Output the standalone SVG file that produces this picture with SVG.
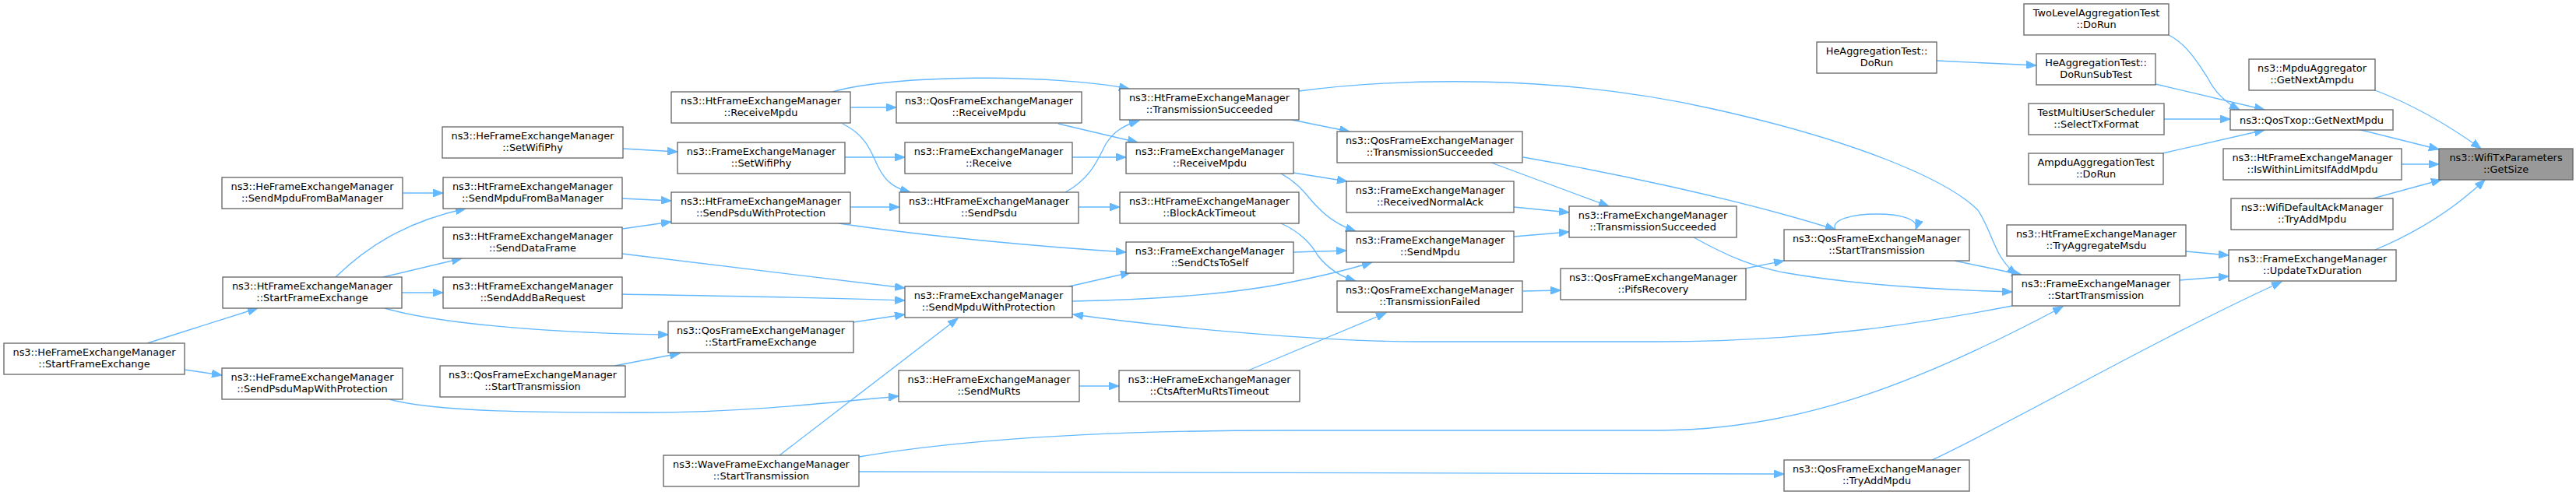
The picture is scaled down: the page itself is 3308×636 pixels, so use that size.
<svg xmlns="http://www.w3.org/2000/svg" width="3308" height="636" viewBox="0 0 3308 636">
<style>
.n rect{fill:#ffffff;stroke:#666666;stroke-width:1.33}
.root rect{fill:#999999;stroke:#666666;stroke-width:1.33}
text{font-family:"DejaVu Sans","Liberation Sans",sans-serif;font-size:12.9px;fill:#000000;text-anchor:middle}
.e path{fill:none;stroke:#63b8ff;stroke-width:1.33;marker-end:url(#ah)}
</style>
<defs>
<marker id="ah" markerUnits="userSpaceOnUse" markerWidth="14" markerHeight="10" refX="13" refY="5" orient="auto">
<path d="M0,0 L13,5 L0,10 z" fill="#63b8ff" stroke="#63b8ff" stroke-width="1"/>
</marker>
</defs>
<rect x="0" y="0" width="3308" height="636" fill="#ffffff"/>
<g id="edges" class="e">
<path d="M517,248 L569,248"/>
<path d="M431,356 C470,318 520,285 598,268"/>
<path d="M492,356 L593,332"/>
<path d="M516,376 L569,376"/>
<path d="M494,396 C560,415 700,428 858,430"/>
<path d="M189,441 L331,396"/>
<path d="M237,475 L285,482"/>
<path d="M500,513 C560,530 700,530 830,530 C950,530 1060,518 1154,509"/>
<path d="M789,470 L873,454"/>
<path d="M800,191 L870,195"/>
<path d="M799,255 L862,258"/>
<path d="M799,294 L862,285"/>
<path d="M799,326 L1162,370"/>
<path d="M799,378 C900,380 1050,382 1162,386"/>
<path d="M1096,414 L1162,404"/>
<path d="M1001,585 L1230,409"/>
<path d="M1103,587 C1250,562 1450,553 1650,553 L2132,553 C2300,552 2450,500 2649,394"/>
<path d="M1103,606 L2291,609"/>
<path d="M1386,496 L1437,496"/>
<path d="M1603,476 L1780,402"/>
<path d="M1069,118 C1150,95 1350,95 1450,114"/>
<path d="M1092,138 L1151,138"/>
<path d="M1082,159 C1115,175 1120,200 1128,215 C1138,235 1150,242 1169,247"/>
<path d="M1359,159 L1461,183"/>
<path d="M1085,202 L1162,202"/>
<path d="M1377,202 L1446,202"/>
<path d="M1092,266 L1155,266"/>
<path d="M1368,247 C1400,230 1410,205 1420,185 C1430,170 1440,162 1463,155"/>
<path d="M1384,266 L1438,266"/>
<path d="M1077,287 C1200,305 1350,318 1446,324"/>
<path d="M1373,368 L1452,350"/>
<path d="M1377,387 C1500,385 1600,375 1660,362 C1700,354 1730,347 1762,337"/>
<path d="M2584,393 C2480,413 2330,439 2130,439 L1820,439 C1700,439 1500,421 1378,404"/>
<path d="M1659,154 L1733,169"/>
<path d="M1668,117 C1800,100 2000,95 2200,140 C2380,180 2500,230 2540,270 C2560,300 2560,330 2590,353"/>
<path d="M1661,222 L1730,233"/>
<path d="M1645,223 C1672,238 1680,255 1692,266 C1705,280 1720,290 1741,297"/>
<path d="M1645,287 C1670,298 1685,315 1692,328 C1705,345 1720,355 1741,361"/>
<path d="M1661,324 L1729,322"/>
<path d="M1915,209 L2066,265"/>
<path d="M1956,202 C2060,220 2230,255 2357,295"/>
<path d="M1944,266 L2015,273"/>
<path d="M1944,304 L2015,298"/>
<path d="M1956,374 L2004,373"/>
<path d="M2175,305 C2220,330 2250,342 2290,350 C2380,366 2480,372 2584,375"/>
<path d="M2241,345 L2291,335"/>
<path d="M2357,295 C2350,282 2380,275 2410,275 C2442,275 2465,282 2460,295"/>
<path d="M2510,335 L2596,353"/>
<path d="M2487,78 L2615,84"/>
<path d="M2785,45 C2810,58 2825,85 2835,100 C2845,120 2860,133 2876,141"/>
<path d="M2768,108 L2908,141"/>
<path d="M2779,153 L2864,153"/>
<path d="M2777,197 L2908,167"/>
<path d="M3050,116 C3100,135 3150,165 3186,191"/>
<path d="M3028,166 L3132,192"/>
<path d="M3084,211 L3132,211"/>
<path d="M3047,255 L3135,231"/>
<path d="M3050,321 C3100,300 3150,270 3191,231"/>
<path d="M2807,323 L2862,328"/>
<path d="M2799,360 L2862,355"/>
<path d="M2481,591 C2580,545 2760,440 2930,362"/>
</g>
<g id="HeStartFrameExchange" class="n"><rect x="5" y="441" width="232" height="40"/><text x="121" y="456.5">ns3::HeFrameExchangeManager</text><text x="121" y="471.5">::StartFrameExchange</text></g>
<g id="HeSendMpduFromBaManager" class="n"><rect x="285" y="228" width="232" height="40"/><text x="401" y="243.5">ns3::HeFrameExchangeManager</text><text x="401" y="258.5">::SendMpduFromBaManager</text></g>
<g id="HtStartFrameExchange" class="n"><rect x="286" y="356" width="230" height="40"/><text x="401" y="371.5">ns3::HtFrameExchangeManager</text><text x="401" y="386.5">::StartFrameExchange</text></g>
<g id="HeSendPsduMapWithProtection" class="n"><rect x="285" y="473" width="232" height="40"/><text x="401" y="488.5">ns3::HeFrameExchangeManager</text><text x="401" y="503.5">::SendPsduMapWithProtection</text></g>
<g id="HeSetWifiPhy" class="n"><rect x="568" y="163" width="232" height="40"/><text x="684" y="178.5">ns3::HeFrameExchangeManager</text><text x="684" y="193.5">::SetWifiPhy</text></g>
<g id="HtSendMpduFromBaManager" class="n"><rect x="569" y="228" width="230" height="40"/><text x="684" y="243.5">ns3::HtFrameExchangeManager</text><text x="684" y="258.5">::SendMpduFromBaManager</text></g>
<g id="HtSendDataFrame" class="n"><rect x="569" y="292" width="230" height="40"/><text x="684" y="307.5">ns3::HtFrameExchangeManager</text><text x="684" y="322.5">::SendDataFrame</text></g>
<g id="HtSendAddBaRequest" class="n"><rect x="569" y="356" width="230" height="40"/><text x="684" y="371.5">ns3::HtFrameExchangeManager</text><text x="684" y="386.5">::SendAddBaRequest</text></g>
<g id="QosStartTransmissionA" class="n"><rect x="565" y="470" width="238" height="40"/><text x="684" y="485.5">ns3::QosFrameExchangeManager</text><text x="684" y="500.5">::StartTransmission</text></g>
<g id="HtReceiveMpdu" class="n"><rect x="862" y="118" width="230" height="40"/><text x="977" y="133.5">ns3::HtFrameExchangeManager</text><text x="977" y="148.5">::ReceiveMpdu</text></g>
<g id="FemSetWifiPhy" class="n"><rect x="870" y="183" width="215" height="40"/><text x="977.5" y="198.5">ns3::FrameExchangeManager</text><text x="977.5" y="213.5">::SetWifiPhy</text></g>
<g id="HtSendPsduWithProtection" class="n"><rect x="862" y="247" width="230" height="40"/><text x="977" y="262.5">ns3::HtFrameExchangeManager</text><text x="977" y="277.5">::SendPsduWithProtection</text></g>
<g id="QosStartFrameExchange" class="n"><rect x="858" y="413" width="238" height="40"/><text x="977" y="428.5">ns3::QosFrameExchangeManager</text><text x="977" y="443.5">::StartFrameExchange</text></g>
<g id="WaveStartTransmission" class="n"><rect x="852" y="585" width="251" height="40"/><text x="977.5" y="600.5">ns3::WaveFrameExchangeManager</text><text x="977.5" y="615.5">::StartTransmission</text></g>
<g id="QosReceiveMpdu" class="n"><rect x="1151" y="118" width="238" height="40"/><text x="1270" y="133.5">ns3::QosFrameExchangeManager</text><text x="1270" y="148.5">::ReceiveMpdu</text></g>
<g id="FemReceive" class="n"><rect x="1162" y="183" width="215" height="40"/><text x="1269.5" y="198.5">ns3::FrameExchangeManager</text><text x="1269.5" y="213.5">::Receive</text></g>
<g id="HtSendPsdu" class="n"><rect x="1155" y="247" width="230" height="40"/><text x="1270" y="262.5">ns3::HtFrameExchangeManager</text><text x="1270" y="277.5">::SendPsdu</text></g>
<g id="FemSendMpduWithProtection" class="n"><rect x="1162" y="368" width="215" height="40"/><text x="1269.5" y="383.5">ns3::FrameExchangeManager</text><text x="1269.5" y="398.5">::SendMpduWithProtection</text></g>
<g id="HeSendMuRts" class="n"><rect x="1154" y="476" width="232" height="40"/><text x="1270" y="491.5">ns3::HeFrameExchangeManager</text><text x="1270" y="506.5">::SendMuRts</text></g>
<g id="HtTransmissionSucceeded" class="n"><rect x="1438" y="114" width="230" height="40"/><text x="1553" y="129.5">ns3::HtFrameExchangeManager</text><text x="1553" y="144.5">::TransmissionSucceeded</text></g>
<g id="FemReceiveMpdu" class="n"><rect x="1446" y="183" width="215" height="40"/><text x="1553.5" y="198.5">ns3::FrameExchangeManager</text><text x="1553.5" y="213.5">::ReceiveMpdu</text></g>
<g id="HtBlockAckTimeout" class="n"><rect x="1438" y="247" width="230" height="40"/><text x="1553" y="262.5">ns3::HtFrameExchangeManager</text><text x="1553" y="277.5">::BlockAckTimeout</text></g>
<g id="FemSendCtsToSelf" class="n"><rect x="1446" y="311" width="215" height="40"/><text x="1553.5" y="326.5">ns3::FrameExchangeManager</text><text x="1553.5" y="341.5">::SendCtsToSelf</text></g>
<g id="HeCtsAfterMuRtsTimeout" class="n"><rect x="1437" y="476" width="232" height="40"/><text x="1553" y="491.5">ns3::HeFrameExchangeManager</text><text x="1553" y="506.5">::CtsAfterMuRtsTimeout</text></g>
<g id="QosTransmissionSucceeded" class="n"><rect x="1717" y="169" width="238" height="40"/><text x="1836" y="184.5">ns3::QosFrameExchangeManager</text><text x="1836" y="199.5">::TransmissionSucceeded</text></g>
<g id="FemReceivedNormalAck" class="n"><rect x="1729" y="233" width="215" height="40"/><text x="1836.5" y="248.5">ns3::FrameExchangeManager</text><text x="1836.5" y="263.5">::ReceivedNormalAck</text></g>
<g id="FemSendMpdu" class="n"><rect x="1729" y="297" width="215" height="40"/><text x="1836.5" y="312.5">ns3::FrameExchangeManager</text><text x="1836.5" y="327.5">::SendMpdu</text></g>
<g id="QosTransmissionFailed" class="n"><rect x="1717" y="361" width="238" height="40"/><text x="1836" y="376.5">ns3::QosFrameExchangeManager</text><text x="1836" y="391.5">::TransmissionFailed</text></g>
<g id="FemTransmissionSucceeded" class="n"><rect x="2015" y="265" width="215" height="40"/><text x="2122.5" y="280.5">ns3::FrameExchangeManager</text><text x="2122.5" y="295.5">::TransmissionSucceeded</text></g>
<g id="QosPifsRecovery" class="n"><rect x="2004" y="345" width="238" height="40"/><text x="2123" y="360.5">ns3::QosFrameExchangeManager</text><text x="2123" y="375.5">::PifsRecovery</text></g>
<g id="HeAggregationTestDoRun" class="n"><rect x="2333" y="54" width="154" height="40"/><text x="2410" y="69.5">HeAggregationTest::</text><text x="2410" y="84.5">DoRun</text></g>
<g id="QosStartTransmissionB" class="n"><rect x="2291" y="295" width="238" height="40"/><text x="2410" y="310.5">ns3::QosFrameExchangeManager</text><text x="2410" y="325.5">::StartTransmission</text></g>
<g id="QosTryAddMpdu" class="n"><rect x="2291" y="591" width="238" height="40"/><text x="2410" y="606.5">ns3::QosFrameExchangeManager</text><text x="2410" y="621.5">::TryAddMpdu</text></g>
<g id="TwoLevelAggregationTestDoRun" class="n"><rect x="2599" y="5" width="186" height="40"/><text x="2692" y="20.5">TwoLevelAggregationTest</text><text x="2692" y="35.5">::DoRun</text></g>
<g id="HeAggregationTestDoRunSubTest" class="n"><rect x="2615" y="69" width="153" height="40"/><text x="2691.5" y="84.5">HeAggregationTest::</text><text x="2691.5" y="99.5">DoRunSubTest</text></g>
<g id="TestMultiUserSchedulerSelectTxFormat" class="n"><rect x="2605" y="133" width="174" height="40"/><text x="2692" y="148.5">TestMultiUserScheduler</text><text x="2692" y="163.5">::SelectTxFormat</text></g>
<g id="AmpduAggregationTestDoRun" class="n"><rect x="2605" y="197" width="173" height="40"/><text x="2691.5" y="212.5">AmpduAggregationTest</text><text x="2691.5" y="227.5">::DoRun</text></g>
<g id="HtTryAggregateMsdu" class="n"><rect x="2577" y="289" width="230" height="40"/><text x="2692" y="304.5">ns3::HtFrameExchangeManager</text><text x="2692" y="319.5">::TryAggregateMsdu</text></g>
<g id="FemStartTransmission" class="n"><rect x="2584" y="353" width="215" height="40"/><text x="2691.5" y="368.5">ns3::FrameExchangeManager</text><text x="2691.5" y="383.5">::StartTransmission</text></g>
<g id="MpduAggregatorGetNextAmpdu" class="n"><rect x="2888" y="76" width="162" height="40"/><text x="2969" y="91.5">ns3::MpduAggregator</text><text x="2969" y="106.5">::GetNextAmpdu</text></g>
<g id="QosTxopGetNextMpdu" class="n"><rect x="2864" y="141" width="209" height="26"/><text x="2968.5" y="158.5">ns3::QosTxop::GetNextMpdu</text></g>
<g id="HtIsWithinLimitsIfAddMpdu" class="n"><rect x="2855" y="191" width="229" height="40"/><text x="2969.5" y="206.5">ns3::HtFrameExchangeManager</text><text x="2969.5" y="221.5">::IsWithinLimitsIfAddMpdu</text></g>
<g id="WifiDefaultAckManagerTryAddMpdu" class="n"><rect x="2865" y="255" width="208" height="40"/><text x="2969" y="270.5">ns3::WifiDefaultAckManager</text><text x="2969" y="285.5">::TryAddMpdu</text></g>
<g id="FemUpdateTxDuration" class="n"><rect x="2862" y="321" width="215" height="40"/><text x="2969.5" y="336.5">ns3::FrameExchangeManager</text><text x="2969.5" y="351.5">::UpdateTxDuration</text></g>
<g id="WifiTxParametersGetSize" class="root"><rect x="3132" y="191" width="172" height="40"/><text x="3218" y="206.5">ns3::WifiTxParameters</text><text x="3218" y="221.5">::GetSize</text></g>
</svg>
